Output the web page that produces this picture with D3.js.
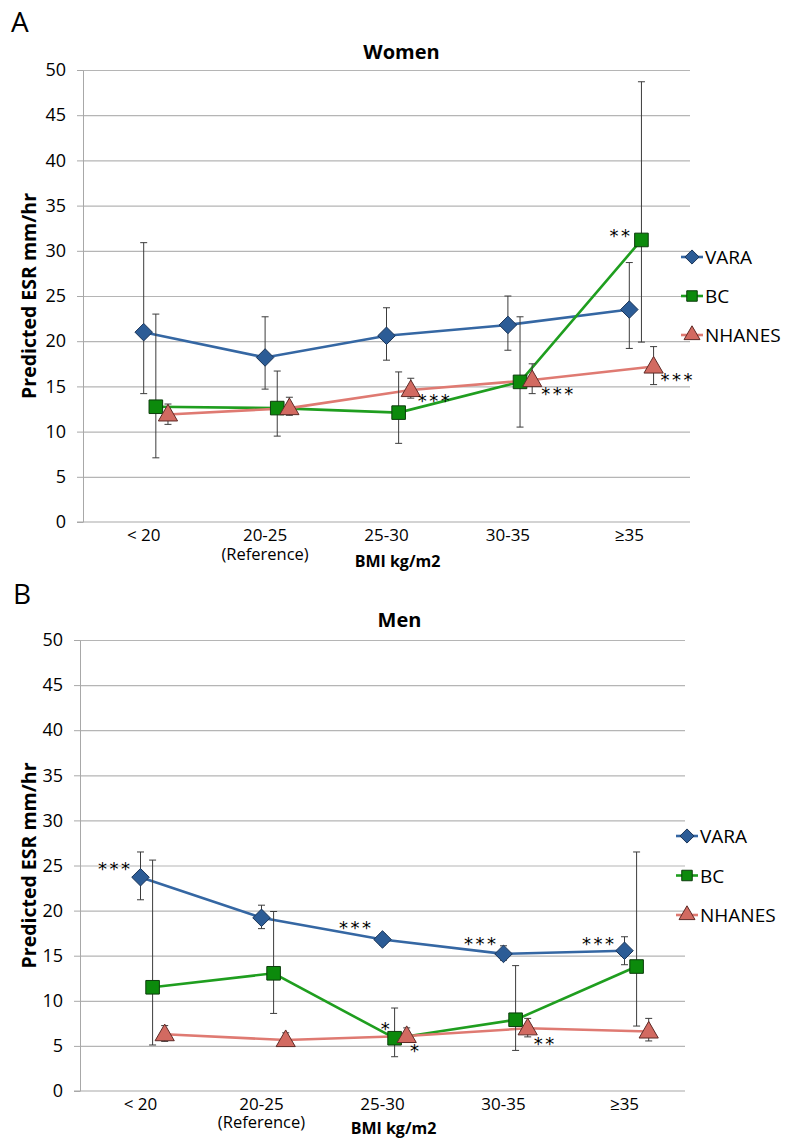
<!DOCTYPE html>
<html>
<head>
<meta charset="utf-8">
<script src="https://cdn.jsdelivr.net/npm/d3@7"></script>
<style>
  body { margin: 0; background: #fff; }
  text { font-family: "Open Sans", sans-serif; fill: #000; }
</style>
</head>
<body>
<div id="chart"></div>
<script>
// categories and series
const categories = ["< 20", "20-25", "25-30", "30-35", "≥35"];
const categoryNotes = ["", "(Reference)", "", "", ""];
const seriesNames = ["VARA", "BC", "NHANES"];
const yTicks = [0, 5, 10, 15, 20, 25, 30, 35, 40, 45, 50];

// Women: predicted ESR and error bar ends
const womenVARA = [21.0, 18.2, 20.6, 21.8, 23.5];
const womenVARALow = [14.2, 14.7, 17.9, 19.0, 19.2];
const womenVARAHigh = [30.9, 22.7, 23.7, 25.0, 28.7];
const womenBC = [12.75, 12.6, 12.1, 15.5, 31.2];
const womenBCLow = [7.1, 9.5, 8.7, 10.5, 19.9];
const womenBCHigh = [23.0, 16.7, 16.6, 22.7, 48.7];
const womenNHANES = [11.9, 12.6, 14.6, 15.7, 17.2];
const womenNHANESLow = [10.8, 11.8, 13.7, 14.2, 15.2];
const womenNHANESHigh = [13.05, 13.8, 15.9, 17.5, 19.4];
const womenStars = [["BC", 4, "**"], ["NHANES", 2, "***"], ["NHANES", 3, "***"], ["NHANES", 4, "***"]];

// Men
const menVARA = [23.7, 19.2, 16.8, 15.2, 15.55];
const menVARALow = [21.2, 18.0, 16.2, 14.5, 14.0];
const menVARAHigh = [26.5, 20.6, 17.4, 16.1, 17.1];
const menBC = [11.5, 13.05, 5.85, 7.9, 13.8];
const menBCLow = [5.1, 8.6, 3.8, 4.5, 7.2];
const menBCHigh = [25.6, 19.9, 9.2, 13.9, 26.5];
const menNHANES = [6.3, 5.65, 6.1, 6.95, 6.6];
const menNHANESLow = [5.5, 5.0, 5.4, 6.0, 5.55];
const menNHANESHigh = [7.25, 6.45, 7.0, 8.05, 8.05];
const menStars = [["VARA", 0, "***"], ["VARA", 2, "***"], ["VARA", 3, "***"], ["VARA", 4, "***"],
                  ["BC", 2, "*"], ["NHANES", 2, "*"], ["NHANES", 3, "**"]];

// styles
const lineColor = { VARA: "#3567a3", BC: "#1f9e1f", NHANES: "#df7a72" };
const markFill = { VARA: "#2c5c96", BC: "#0c8a0c", NHANES: "#d26a61" };
const markStroke = { VARA: "#1b3558", BC: "#0d3d0d", NHANES: "#5e2b27" };

// star offsets from the marker: [anchor, dx, dy]
const womenStarPos = [["end", -9, -8], ["start", 7, 7], ["start", 9, 10], ["start", 7, 9]];
const menStarPos = [["end", -8, -12], ["end", -9, -15], ["end", -5, -14], ["end", -8, -11],
                    ["middle", -8, -13], ["middle", 9, 11], ["start", 6, 12]];

const svg = d3.select("#chart").append("svg")
  .attr("width", 785).attr("height", 1142);

const diamond = {
  draw(ctx, size) {
    const r = Math.sqrt(size) * 0.62;
    ctx.moveTo(0, -r); ctx.lineTo(r, 0); ctx.lineTo(0, r); ctx.lineTo(-r, 0); ctx.closePath();
  }
};

function symbolFor(name, size) {
  if (name === "VARA") return d3.symbol().type(diamond).size(size)();
  if (name === "BC") return d3.symbol().type(d3.symbolSquare).size(size)();
  return d3.symbol().type(d3.symbolTriangle).size(size)();
}

function drawPanel(p) {
  const g = svg.append("g").attr("transform", `translate(${p.left},${p.top})`);
  const w = p.right - p.left, h = p.bottom - p.top;

  const x = d3.scaleBand().domain(categories).range([0, w]);
  const y = d3.scaleLinear().domain([0, 50]).range([h, 0]);
  const bw = x.bandwidth();
  const px = (si, ci) => x(categories[ci]) + bw / 2 + si * bw * 0.1;

  // gridlines
  g.append("g")
    .call(d3.axisLeft(y).tickValues(yTicks.slice(1)).tickSize(-w).tickFormat(""))
    .call(a => a.select(".domain").remove())
    .selectAll("line").attr("stroke", "#b5b5b5").attr("stroke-width", 1.2);

  // y axis
  const ya = g.append("g")
    .call(d3.axisLeft(y).tickValues(yTicks).tickSize(6).tickPadding(11).tickSizeOuter(0));
  ya.select(".domain").attr("stroke", "#a8a8a8");
  ya.selectAll("line").attr("stroke", "#a8a8a8");
  ya.selectAll("text").style("font-size", "18px").attr("fill", "#000")
    .style("font-family", '"Open Sans", sans-serif');

  // x baseline
  g.append("line").attr("x1", -6).attr("x2", w).attr("y1", h).attr("y2", h)
    .attr("stroke", "#a8a8a8").attr("stroke-width", 1.2);

  // x tick labels (second line for the reference group)
  const xl = g.selectAll(".xl").data(categories).enter().append("text")
    .attr("x", d => x(d) + bw / 2).attr("y", h + p.tickDy)
    .attr("text-anchor", "middle").style("font-size", "17px");
  xl.append("tspan").text(d => d);
  xl.filter((d, i) => categoryNotes[i] !== "").append("tspan")
    .attr("x", d => x(d) + bw / 2).attr("dy", p.refDy - p.tickDy)
    .style("font-size", "16.5px").text(d => categoryNotes[categories.indexOf(d)]);

  g.append("text").attr("x", w / 2 + p.xTitleDx).attr("y", h + p.xTitleDy)
    .attr("text-anchor", "middle").style("font-size", "16px").style("font-weight", "bold").text("BMI kg/m2");

  // y title
  g.append("text").attr("transform", `translate(${p.yTitleX - p.left},${h / 2}) rotate(-90)`)
    .attr("text-anchor", "middle").style("font-size", "19.5px").style("font-weight", "bold")
    .text("Predicted ESR mm/hr");

  // chart title and panel letter
  g.append("text").attr("x", w / 2 + p.titleDx).attr("y", p.titleY - p.top)
    .attr("text-anchor", "middle").style("font-size", "20px").style("font-weight", "bold").text(p.title);
  g.append("text").attr("x", p.letterX - p.left).attr("y", p.letterY - p.top)
    .style("font-size", "28px").text(p.letter);

  const line = d3.line().x(d => d[0]).y(d => d[1]);

  // lines
  seriesNames.forEach((s, si) => {
    const pts = p.values[si].map((v, ci) => [px(si, ci), y(v)]);
    g.append("path").datum(pts).attr("d", line).attr("fill", "none")
      .attr("stroke", lineColor[s]).attr("stroke-width", 2.6);
  });

  // error bars
  seriesNames.forEach((s, si) => {
    const eb = g.append("g").attr("stroke", "#3c3c3c").attr("stroke-width", 1);
    p.values[si].forEach((v, ci) => {
      const cx = px(si, ci), lo = y(p.lows[si][ci]), hi = y(p.highs[si][ci]);
      eb.append("line").attr("x1", cx).attr("x2", cx).attr("y1", lo).attr("y2", hi);
      eb.append("line").attr("x1", cx - 3.5).attr("x2", cx + 3.5).attr("y1", lo).attr("y2", lo);
      eb.append("line").attr("x1", cx - 3.5).attr("x2", cx + 3.5).attr("y1", hi).attr("y2", hi);
    });
  });

  // markers
  seriesNames.forEach((s, si) => {
    const size = s === "VARA" ? 200 : s === "BC" ? 185 : 160;
    g.selectAll(".m" + s).data(p.values[si]).enter().append("path")
      .attr("d", symbolFor(s, size))
      .attr("transform", (v, ci) => `translate(${px(si, ci)},${y(v) + (s === "NHANES" ? 1 : 0)})`)
      .attr("fill", markFill[s]).attr("stroke", markStroke[s]).attr("stroke-width", 1);
  });

  // significance stars
  p.stars.forEach((st, i) => {
    const si = seriesNames.indexOf(st[0]);
    const pos = p.starPos[i];
    g.append("text")
      .attr("x", px(si, st[1]) + pos[1])
      .attr("y", y(p.values[si][st[1]]) + pos[2] + 10)
      .attr("text-anchor", pos[0])
      .style("font-family", "DejaVu Sans, sans-serif")
      .style("font-size", "18px").style("letter-spacing", "2.5px")
      .text(st[2]);
  });

  // legend
  seriesNames.forEach((s, si) => {
    const ly = p.legendY + si * p.legendStep - p.top;
    const lx = p.legendX - p.left;
    g.append("line").attr("x1", lx - 11).attr("x2", lx + 11).attr("y1", ly).attr("y2", ly)
      .attr("stroke", lineColor[s]).attr("stroke-width", 2.6);
    g.append("path").attr("d", symbolFor(s, s === "VARA" ? 130 : 110))
      .attr("transform", `translate(${lx},${ly})`)
      .attr("fill", markFill[s]).attr("stroke", markStroke[s]).attr("stroke-width", 1);
    g.append("text").attr("x", lx + 13).attr("y", ly + 7)
      .style("font-size", "19px").text(s);
  });
}

drawPanel({
  left: 83, right: 690, top: 70, bottom: 522,
  title: "Women", titleY: 59, titleDx: 15, letter: "A", letterX: 11, letterY: 32,
  yTitleX: 36, tickDy: 19, refDy: 38, xTitleDx: 11, xTitleDy: 45,
  values: [womenVARA, womenBC, womenNHANES],
  lows: [womenVARALow, womenBCLow, womenNHANESLow],
  highs: [womenVARAHigh, womenBCHigh, womenNHANESHigh],
  stars: womenStars, starPos: womenStarPos,
  legendX: 692, legendY: 257, legendStep: 39
});

drawPanel({
  left: 80, right: 685, top: 640, bottom: 1091,
  title: "Men", titleY: 627, titleDx: 17, letter: "B", letterX: 13, letterY: 604,
  yTitleX: 36, tickDy: 19, refDy: 37, xTitleDx: 11, xTitleDy: 43,
  values: [menVARA, menBC, menNHANES],
  lows: [menVARALow, menBCLow, menNHANESLow],
  highs: [menVARAHigh, menBCHigh, menNHANESHigh],
  stars: menStars, starPos: menStarPos,
  legendX: 687, legendY: 836, legendStep: 39.5
});
</script>
</body>
</html>
